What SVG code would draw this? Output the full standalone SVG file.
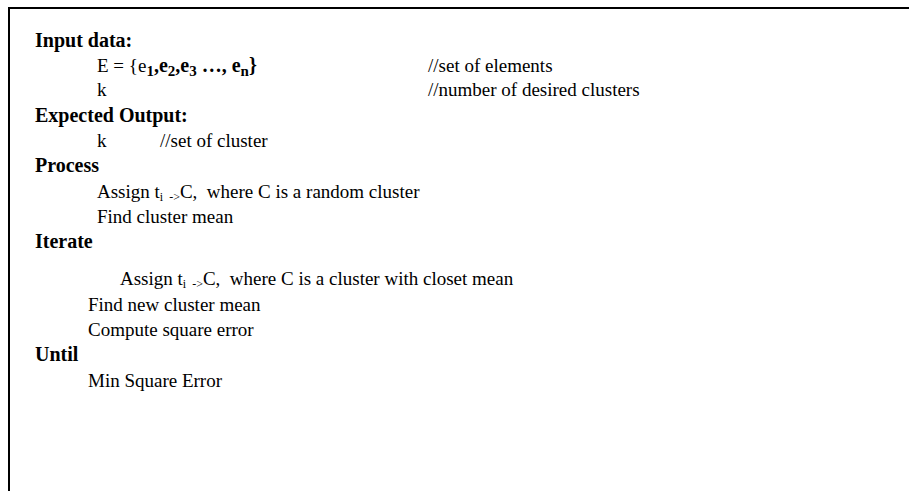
<svg xmlns="http://www.w3.org/2000/svg" width="909" height="491" viewBox="0 0 909 491">
<style>
text{font-family:"Liberation Serif","Times New Roman",serif;font-size:19px;fill:#000;white-space:pre}
.b{font-weight:bold;font-size:20px}
.bb{font-weight:bold;font-size:20px}
.s{font-size:12px}
.sb{font-size:15px;font-weight:bold}
</style>
<rect width="909" height="491" fill="#fff"/>
<g id="frame"><path d="M9,491 V8 H909" fill="none" stroke="#000" stroke-width="2"/></g>
<g id="content">
<text class="b" x="35" y="47">Input data:</text>
<text x="97" y="72" xml:space="preserve">E = {e<tspan class="sb" dy="4">1</tspan><tspan class="bb" dy="-4">,e</tspan><tspan class="sb" dy="4">2</tspan><tspan class="bb" dy="-4">,e</tspan><tspan class="sb" dy="4">3</tspan><tspan class="bb" dy="-4"> …, e</tspan><tspan class="sb" dy="4">n</tspan><tspan class="bb" dy="-4">}</tspan></text>
<text x="428" y="72">//set of elements</text>
<text x="97" y="96">k</text>
<text x="428" y="96">//number of desired clusters</text>
<text class="b" x="35" y="122">Expected Output:</text>
<text x="97" y="147">k</text>
<text x="160" y="147">//set of cluster</text>
<text class="b" x="35" y="172">Process</text>
<text x="97" y="198" xml:space="preserve">Assign t<tspan class="s" dy="3">i  -&gt;</tspan><tspan dy="-3">C,  where C is a random cluster</tspan></text>
<text x="97" y="223">Find cluster mean</text>
<text class="b" x="35" y="248">Iterate</text>
<text x="120" y="285" xml:space="preserve">Assign t<tspan class="s" dy="3">i  -&gt;</tspan><tspan dy="-3">C,  where C is a cluster with closet mean</tspan></text>
<text x="88" y="311">Find new cluster mean</text>
<text x="88" y="336">Compute square error</text>
<text class="b" x="35" y="361">Until</text>
<text x="88" y="387">Min Square Error</text>
</g>
</svg>
